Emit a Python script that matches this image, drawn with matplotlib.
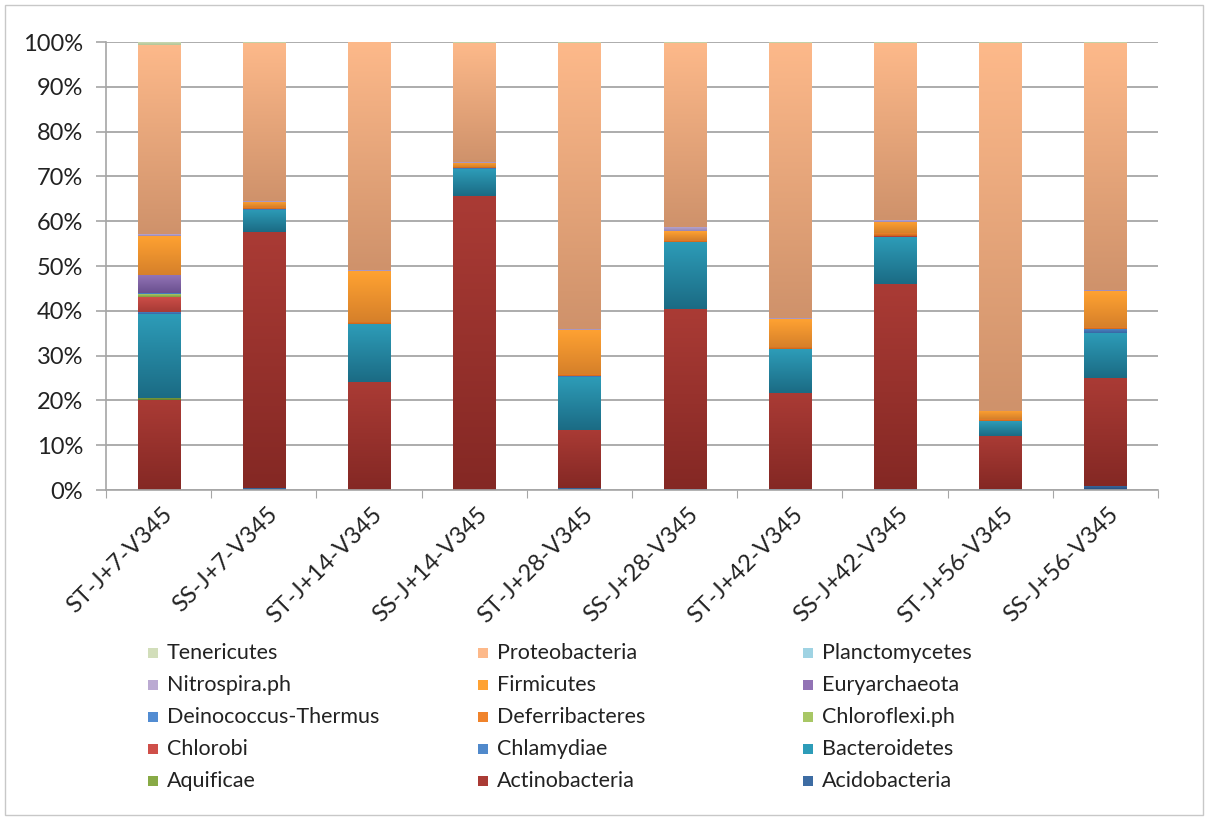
import numpy as np
import matplotlib
matplotlib.use("Agg")
import matplotlib.pyplot as plt
from matplotlib.colors import to_rgb
from matplotlib.patches import Rectangle
from matplotlib.transforms import ScaledTranslation

plt.rcParams['font.family'] = ['Lato', 'DejaVu Sans']

samples = ["ST-J+7-V345", "SS-J+7-V345", "ST-J+14-V345", "SS-J+14-V345",
           "ST-J+28-V345", "SS-J+28-V345", "ST-J+42-V345", "SS-J+42-V345",
           "ST-J+56-V345", "SS-J+56-V345"]

# relative abundance (%) per phylum, one value per sample
acidobacteria = [0.1, 0.4, 0.1, 0.1, 0.4, 0.3, 0.3, 0.3, 0.3, 1.0]
actinobacteria = [19.9, 57.2, 24.1, 65.6, 13.1, 40.0, 21.4, 45.7, 11.8, 24.1]
aquificae = [0.6, 0, 0, 0, 0, 0, 0, 0, 0, 0]
bacteroidetes = [18.6, 5.0, 12.8, 5.9, 11.8, 15.0, 9.7, 10.4, 3.2, 10.0]
chlamydiae = [0.5, 0.1, 0.1, 0.2, 0.1, 0.1, 0.1, 0.1, 0.1, 0.9]
chlorobi = [3.4, 0.1, 0, 0, 0, 0, 0, 0.3, 0, 0]
chloroflexi = [0.6, 0, 0, 0, 0, 0, 0, 0, 0, 0]
deferribacteres = [0.1, 0.3, 0.5, 0.3, 0.4, 0.4, 0.5, 0.5, 0.4, 0.4]
deinococcus = [0.1, 0, 0, 0, 0, 0, 0, 0, 0, 0]
euryarchaeota = [4.0, 0, 0, 0, 0, 0, 0, 0, 0, 0]
firmicutes = [8.8, 1.2, 11.3, 1.0, 10.0, 2.0, 6.2, 2.6, 1.8, 8.0]
nitrospira = [0.4, 0.2, 0.1, 0.2, 0.2, 1.0, 0.1, 0.4, 0.1, 0.3]
planctomycetes = [0.1, 0, 0, 0, 0, 0, 0, 0, 0, 0]
proteobacteria = [42.1, 35.3, 50.9, 26.5, 63.8, 41.0, 61.5, 39.5, 82.1, 55.1]
tenericutes = [0.7, 0.2, 0.1, 0.2, 0.2, 0.2, 0.2, 0.2, 0.2, 0.2]

names = ["Acidobacteria", "Actinobacteria", "Aquificae", "Bacteroidetes",
         "Chlamydiae", "Chlorobi", "Chloroflexi.ph", "Deferribacteres",
         "Deinococcus-Thermus", "Euryarchaeota", "Firmicutes", "Nitrospira.ph",
         "Planctomycetes", "Proteobacteria", "Tenericutes"]
series = [acidobacteria, actinobacteria, aquificae, bacteroidetes, chlamydiae,
          chlorobi, chloroflexi, deferribacteres, deinococcus, euryarchaeota,
          firmicutes, nitrospira, planctomycetes, proteobacteria, tenericutes]

# (top, bottom) of the Excel-like vertical gradient
grads = [("#3d6ca3", "#244978"), ("#aa3b35", "#842824"), ("#88aa46", "#5f7d2c"),
         ("#2d9cb8", "#1b6b84"), ("#5089cb", "#3867a3"), ("#cf4f49", "#a63a35"),
         ("#a8c765", "#7e9b3f"), ("#f0832b", "#c7651b"), ("#528cd2", "#3a6cae"),
         ("#9273b5", "#6a508f"), ("#ffa232", "#d6802a"), ("#bbaad2", "#9885b4"),
         ("#9fd3e3", "#76b2c4"), ("#fdb98a", "#cf926b"), ("#d2deba", "#b3c596")]


def shade(ax, patch, top, bottom):
    x, y = patch.get_xy()
    w, h = patch.get_width(), patch.get_height()
    if h <= 0:
        return
    t = np.linspace(0, 1, 128)[:, None, None]
    img = np.array(to_rgb(top)) * (1 - t) + np.array(to_rgb(bottom)) * t
    ax.imshow(img, extent=[x, x + w, y, y + h], aspect='auto', origin='upper',
              interpolation='bilinear', zorder=2)


W, H = 1206, 818
fig = plt.figure(figsize=(W / 100, H / 100), dpi=100)
ax = fig.add_axes([106 / W, 1 - 490 / H, (1158 - 106) / W, (490 - 42) / H])

x = np.arange(len(samples))
bottom = np.zeros(len(samples))
for vals, (c1, c2) in zip(series, grads):
    bars = ax.bar(x, vals, 0.4, bottom=bottom, facecolor='none', edgecolor='none')
    for p in bars.patches:
        shade(ax, p, c1, c2)
    bottom += np.array(vals)

ax.set_xlim(-0.5, len(samples) - 0.5)
ax.set_ylim(0, 100)
ax.set_yticks(np.arange(0, 101, 10))
ax.set_yticklabels([f"{v}%" for v in range(0, 101, 10)])
ax.yaxis.grid(True, color='#a6a6a6', linewidth=1.3, zorder=0)
ax.set_axisbelow(True)

ax.set_xticks(np.arange(-0.5, len(samples), 1))
ax.set_xticklabels([])
ax.set_xticks(x, minor=True)
ax.set_xticklabels(samples, minor=True, rotation=45, ha='right', va='center',
                   rotation_mode='anchor', fontsize=17, color='#222222')
ax.tick_params(axis='x', which='major', direction='out', length=6, color='#a6a6a6')
ax.tick_params(axis='x', which='minor', length=0, pad=15)
ax.tick_params(axis='y', direction='out', length=7.5, color='#a6a6a6', width=1.2,
               labelsize=17, labelcolor='#222222', pad=9)
for lbl in ax.get_xticklabels(minor=True):
    lbl.set_transform(lbl.get_transform() + ScaledTranslation(10 / 100, 0, fig.dpi_scale_trans))

for s in ['top', 'right']:
    ax.spines[s].set_visible(False)
for s in ['left', 'bottom']:
    ax.spines[s].set_color('#a6a6a6')
    ax.spines[s].set_linewidth(1.2)

# legend: 3 columns, reverse series order, filled row by row
rev = list(range(len(names)))[::-1]
text_x = [167, 497, 822]
row_y = [653, 685, 717, 749, 781]
for k, i in enumerate(rev):
    r, c = divmod(k, 3)
    tx, ty = text_x[c], row_y[r]
    fig.add_artist(Rectangle(((tx - 19) / W, 1 - (ty + 5) / H), 10 / W, 10 / H,
                             transform=fig.transFigure,
                             facecolor=grads[i][0], edgecolor='none'))
    fig.text(tx / W, 1 - ty / H, names[i], fontsize=15.5, color='#222222',
             ha='left', va='center')

# chart frame
fig.add_artist(Rectangle((5 / W, 3 / H), (W - 8) / W, (H - 8) / H,
                         transform=fig.transFigure, fill=False,
                         edgecolor='#c8c8c8', linewidth=1))

fig.savefig("out.png", dpi=100)
